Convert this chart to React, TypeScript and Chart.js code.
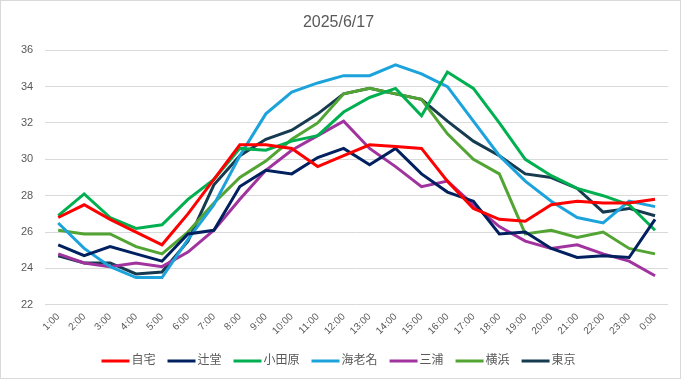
import React, { useEffect, useRef } from "react";
import { Chart, registerables } from "chart.js";

Chart.register(...registerables);

const title = "2025/6/17";
const hours = ["1:00","2:00","3:00","4:00","5:00","6:00","7:00","8:00","9:00","10:00","11:00","12:00","13:00","14:00","15:00","16:00","17:00","18:00","19:00","20:00","21:00","22:00","23:00","0:00"];

const jitaku = [26.8,27.5,26.7,26.0,25.3,27.0,28.9,30.8,30.8,30.6,29.6,30.2,30.8,30.7,30.6,28.8,27.3,26.7,26.6,27.5,27.7,27.6,27.6,27.8];
const tsujido = [25.3,24.7,25.2,24.8,24.4,25.9,26.1,28.5,29.4,29.2,30.1,30.6,29.7,30.6,29.2,28.2,27.7,25.9,26.0,25.1,24.6,24.7,24.6,26.7];
const odawara = [26.9,28.1,26.8,26.2,26.4,27.8,28.9,30.6,30.5,31.0,31.3,32.6,33.4,33.9,32.4,34.8,33.9,32.0,30.0,29.1,28.4,28.0,27.5,26.1];
const ebina = [26.5,25.1,24.1,23.5,23.5,25.6,27.5,30.2,32.5,33.7,34.2,34.6,34.6,35.2,34.7,34.0,32.1,30.2,28.8,27.7,26.8,26.5,27.7,27.4];
const miura = [24.8,24.3,24.1,24.3,24.1,24.9,26.1,27.8,29.4,30.5,31.3,32.1,30.6,29.6,28.5,28.8,27.5,26.3,25.5,25.1,25.3,24.8,24.4,23.6];
const yokohama = [26.1,25.9,25.9,25.2,24.8,26.0,27.6,29.0,29.9,31.1,32.0,33.6,33.9,33.6,33.3,31.4,30.0,29.2,25.9,26.1,25.7,26.0,25.1,24.8];
const tokyo = [24.7,24.3,24.3,23.7,23.8,25.5,28.6,30.2,31.1,31.6,32.5,33.6,33.9,33.6,33.3,32.1,31.0,30.2,29.2,29.0,28.4,27.1,27.3,26.9];

const seriesNames = ["自宅","辻堂","小田原","海老名","三浦","横浜","東京"];
const seriesColors = ["#FF0000","#002060","#00B050","#1CA3DC","#A0339E","#52A433","#163B50"];
const seriesValues = [jitaku, tsujido, odawara, ebina, miura, yokohama, tokyo];

const yMin = 22;
const yMax = 36;
const yStep = 2;

const FONT = "'Liberation Sans', Arial, 'Noto Sans CJK JP', sans-serif";
const TEXT = "#595959";

// legend swatch: a 28px line that ends 2px before the label text
function makeSwatch(color: string): HTMLCanvasElement {
  const c = document.createElement("canvas");
  c.width = 40;
  c.height = 4;
  const g = c.getContext("2d");
  if (g) {
    g.fillStyle = color;
    g.fillRect(8, 0.5, 28, 3);
  }
  return c;
}

export default function App() {
  const ref = useRef<HTMLCanvasElement | null>(null);

  useEffect(() => {
    document.body.style.margin = "0";
    if (!ref.current) return;
    const chart = new Chart(ref.current, {
      type: "line",
      data: {
        labels: hours,
        datasets: seriesNames.map((name, i) => ({
          label: name,
          data: seriesValues[i],
          borderColor: seriesColors[i],
          backgroundColor: seriesColors[i],
          borderWidth: 3,
          pointRadius: 0,
          pointHoverRadius: 0,
          tension: 0,
          fill: false,
          pointStyle: makeSwatch(seriesColors[i]) as any,
        })),
      },
      options: {
        responsive: true,
        maintainAspectRatio: false,
        animation: false,
        layout: { padding: { left: 8, right: 12, top: 0, bottom: 1 } },
        plugins: {
          tooltip: { enabled: false },
          title: {
            display: true,
            text: title,
            color: TEXT,
            font: { family: FONT, size: 16, weight: "normal" },
            padding: { top: 12, bottom: 18 },
          },
          legend: {
            position: "bottom",
            labels: {
              usePointStyle: true,
              pointStyleWidth: 24,
              boxHeight: 12,
              color: TEXT,
              font: { family: FONT, size: 12 },
              padding: 12,
            },
          },
        },
        scales: {
          x: {
            offset: true,
            grid: { display: false, drawTicks: false },
            border: { display: false },
            ticks: {
              color: TEXT,
              font: { family: FONT, size: 10 },
              maxRotation: 45,
              minRotation: 45,
              autoSkip: false,
              padding: 6,
            },
          },
          y: {
            min: yMin,
            max: yMax,
            grid: { color: "#D9D9D9", drawTicks: false, lineWidth: 1 },
            border: { display: false },
            ticks: {
              stepSize: yStep,
              color: TEXT,
              font: { family: FONT, size: 11 },
              padding: 12,
            },
          },
        },
      },
    });
    return () => chart.destroy();
  }, []);

  return (
    <div
      style={{
        width: 681,
        height: 379,
        boxSizing: "border-box",
        border: "1px solid #D9D9D9",
        background: "#fff",
        position: "relative",
      }}
    >
      <canvas ref={ref} />
    </div>
  );
}
